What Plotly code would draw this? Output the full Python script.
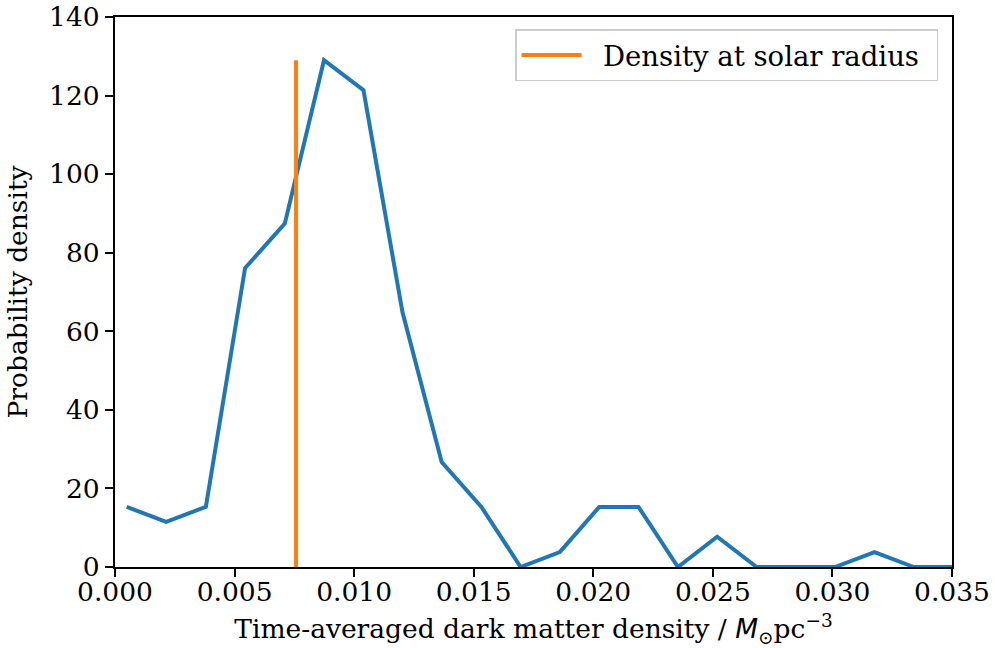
import plotly.graph_objects as go

# Bin centres (time-averaged dark matter density, M_sun pc^-3)
density_bins = [0.00049, 0.00214, 0.00380, 0.00544, 0.00710, 0.00874, 0.01039,
                0.01202, 0.01366, 0.01532, 0.01696, 0.01860, 0.02025, 0.02189,
                0.02354, 0.02518, 0.02683, 0.02847, 0.03011, 0.03176, 0.03340,
                0.03504]
# Probability density values
prob_density = [15.3, 11.5, 15.3, 76.1, 87.4, 129.0, 121.4,
                64.9, 26.7, 15.3, 0.0, 3.8, 15.3, 15.3,
                0.0, 7.7, 0.0, 0.0, 0.0, 3.8, 0.0,
                0.0]
solar_density = 0.00757

x_ticks = [0.000, 0.005, 0.010, 0.015, 0.020, 0.025, 0.030, 0.035]
y_ticks = [0, 20, 40, 60, 80, 100, 120, 140]

FONT = "DejaVu Serif"
FS = 26.5

fig = go.Figure()
fig.add_trace(go.Scatter(
    x=density_bins, y=prob_density, mode="lines",
    line=dict(color="#1f77b4", width=4), showlegend=False))
fig.add_trace(go.Scatter(
    x=[solar_density, solar_density], y=[0, max(prob_density)], mode="lines",
    line=dict(color="#ff7f0e", width=4),
    name="\u2002\u200aDensity at solar radius\u2004\u200a"))

axis_common = dict(showgrid=False, zeroline=False, showline=True, mirror=True,
                   linecolor="black", linewidth=2, ticks="outside", ticklen=8,
                   tickwidth=2, tickcolor="black", automargin=False,
                   ticklabeloverflow="allow",
                   tickfont=dict(family=FONT, size=FS, color="black"))

fig.update_layout(
    width=995, height=648,
    margin=dict(l=115, r=43, t=17, b=81),
    paper_bgcolor="white", plot_bgcolor="white",
    font=dict(family=FONT, size=FS, color="black"),
    xaxis=dict(range=[0, 0.035], tickvals=x_ticks,
               ticktext=[f"{v:.3f}" for v in x_ticks],
               ticklabelstandoff=-8,
               title=dict(text="Time-averaged dark matter density / "
                               "<span style=\"font-family:'DejaVu Sans'\"><i>M</i></span>"
                               "<sub>⊙</sub>pc<sup>−3</sup>",
                          font=dict(family=FONT, size=FS), standoff=16),
               **axis_common),
    yaxis=dict(range=[0, 140], tickvals=y_ticks,
               ticktext=[str(v) for v in y_ticks],
               title=dict(text="Probability density",
                          font=dict(family=FONT, size=FS), standoff=14),
               **axis_common),
    legend=dict(x=0.9833, y=0.978, xanchor="right", yanchor="top",
                bgcolor="rgba(255,255,255,0.8)", bordercolor="#cccccc",
                borderwidth=1.5, itemwidth=60,
                font=dict(family=FONT, size=27.5)),
)

# remove the default page margin so the 995x648 figure fills the window exactly
fig.write_html("out.html",
               config={"displayModeBar": False},
               post_script="document.body.style.margin='0px';"
                           "document.body.style.overflow='hidden';")
